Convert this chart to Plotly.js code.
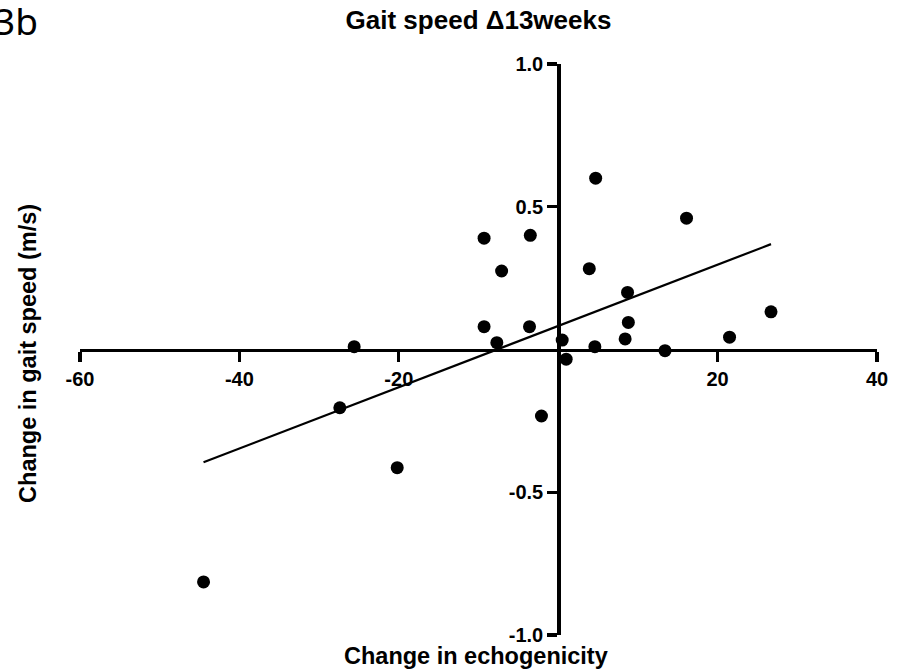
<!DOCTYPE html>
<html>
<head>
<meta charset="utf-8">
<script src="https://cdn.plot.ly/plotly-3.0.1.min.js"></script>
<style>
html,body{margin:0;padding:0;background:#fff;}
#chart{width:908px;height:669px;}
</style>
</head>
<body>
<div id="chart"></div>
<script>
// Change in echogenicity (x) vs change in gait speed (y)
var echoChange = [4.7, 16.1, -9.3, -3.5, -7.1, 3.9, 8.7, 26.7, -9.3, -3.6, 8.8, -7.7, 0.5, 8.4, 21.5, 4.6, 13.4, 1.0, -25.6, -27.4, -20.2, -44.5, -2.1];
var gaitChange = [0.60, 0.46, 0.39, 0.40, 0.275, 0.283, 0.20, 0.132, 0.08, 0.08, 0.095, 0.024, 0.033, 0.037, 0.043, 0.01, -0.004, -0.034, 0.01, -0.204, -0.414, -0.814, -0.233];
// regression line endpoints
var fitX = [-44.5, 26.7];
var fitY = [-0.395, 0.369];
var xTickVals = [-60, -40, -20, 20, 40];
var xTickText = ['-60', '-40', '-20', '20', '40'];
var yTickVals = [-1, -0.5, 0.5, 1];
var yTickText = ['-1.0', '-0.5', '0.5', '1.0'];

var fontFam = 'Liberation Sans, Arial, sans-serif';

var traces = [
  {
    x: fitX, y: fitY, mode: 'lines', type: 'scatter',
    line: {color: '#000', width: 2.2}, hoverinfo: 'skip', showlegend: false
  },
  {
    x: echoChange, y: gaitChange, mode: 'markers', type: 'scatter',
    marker: {color: '#000', size: 13, symbol: 'circle'}, showlegend: false, cliponaxis: false
  }
];

var layout = {
  width: 908, height: 669,
  margin: {l: 80, r: 31, t: 64, b: 34},
  paper_bgcolor: '#fff', plot_bgcolor: '#fff',
  showlegend: false,
  title: {
    text: '<b>Gait speed Δ13weeks</b>',
    font: {family: fontFam, size: 26, color: '#000'},
    xref: 'paper', x: 0.5, xanchor: 'center',
    yref: 'container', y: 0.971, yanchor: 'middle'
  },
  xaxis: {
    range: [-60, 40], anchor: 'free', position: 0.5,
    showgrid: false, zeroline: false,
    showline: true, linecolor: '#000', linewidth: 3.3,
    ticks: 'outside', ticklen: 10, tickwidth: 3.3, tickcolor: '#000',
    tickvals: xTickVals, ticktext: xTickText,
    tickfont: {family: fontFam, size: 20, color: '#000', weight: 'bold'}
  },
  yaxis: {
    range: [-1, 1], anchor: 'free', position: 0.6,
    showgrid: false, zeroline: false,
    showline: true, linecolor: '#000', linewidth: 3.3,
    ticks: 'outside', ticklen: 10, tickwidth: 3.3, tickcolor: '#000',
    tickvals: yTickVals, ticktext: yTickText,
    tickfont: {family: fontFam, size: 20, color: '#000', weight: 'bold'}
  },
  annotations: [
    {
      text: '<b>Change in echogenicity</b>', xref: 'paper', yref: 'paper',
      x: 0.497, y: -0.036, xanchor: 'center', yanchor: 'middle', showarrow: false,
      font: {family: fontFam, size: 23.5, color: '#000'}
    },
    {
      text: '<b>Change in gait speed (m/s)</b>', xref: 'paper', yref: 'paper',
      x: -0.0653, y: 0.494, xanchor: 'center', yanchor: 'middle', showarrow: false,
      textangle: -90,
      font: {family: fontFam, size: 23.5, color: '#000'}
    },
    {
      text: '3b', xref: 'paper', yref: 'paper',
      x: -0.1105, y: 1.077, xanchor: 'left', yanchor: 'middle', showarrow: false,
      font: {family: 'Noto Sans, sans-serif', size: 37, color: '#000'}
    }
  ]
};

Plotly.newPlot('chart', traces, layout, {displayModeBar: false, staticPlot: true});
</script>
</body>
</html>
